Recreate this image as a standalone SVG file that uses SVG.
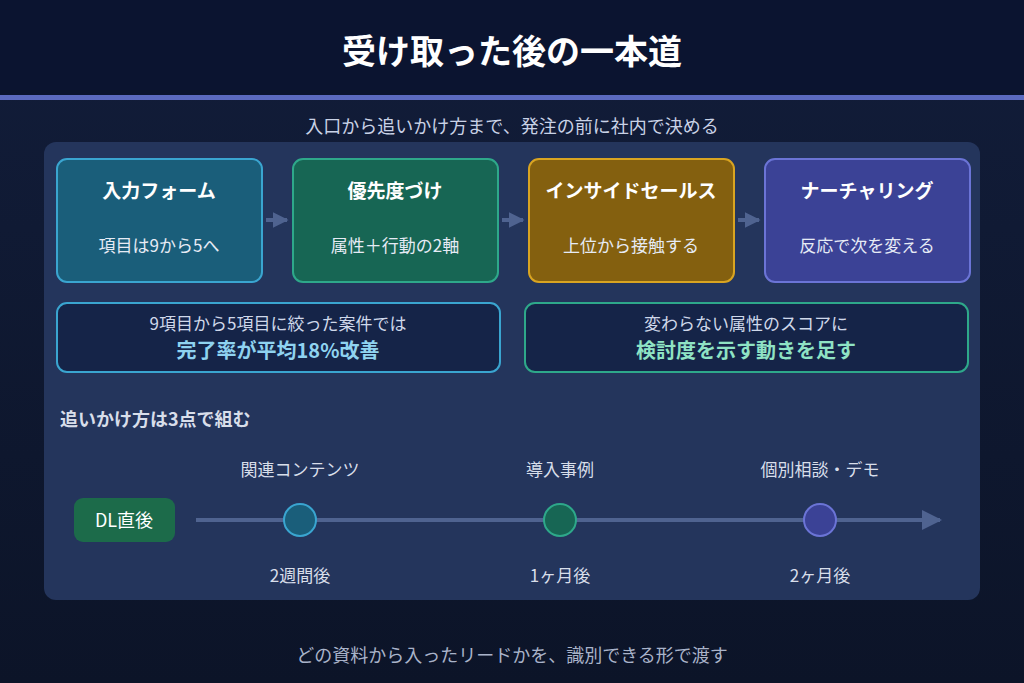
<svg xmlns="http://www.w3.org/2000/svg" width="1024" height="683" viewBox="0 0 1024 683">
<defs>
<linearGradient id="bg" x1="0" y1="0" x2="0" y2="1"><stop offset="0" stop-color="#121d3a"/><stop offset="1" stop-color="#0c1428"/></linearGradient>
<marker id="ah" viewBox="0 0 10 10" refX="9" refY="5" markerWidth="4" markerHeight="4" orient="auto"><path d="M0,0 L10,5 L0,10z" fill="#4f6390"/></marker>
<marker id="ah2" viewBox="0 0 10 10" refX="9" refY="5" markerWidth="5" markerHeight="5" orient="auto"><path d="M0,0 L10,5 L0,10z" fill="#4f6390"/></marker>
<style>
text{font-family:"Noto Sans CJK JP","Noto Sans",sans-serif;text-anchor:middle}
.t{fill:#fff;font-size:19px;font-weight:700}
.s{fill:#e6ebf5;font-size:17px}
.l{fill:#d8deea;font-size:17px}
.lb{font-size:18px;font-weight:700}
</style>
</defs>
<rect width="1024" height="683" fill="url(#bg)"/>
<rect width="1024" height="95" fill="#0b1430"/>
<rect y="95" width="1024" height="5" fill="#5b6ac0"/>
<text x="512" y="64" fill="#fff" font-size="34" font-weight="700">受け取った後の一本道</text>
<text x="512" y="133" fill="#c9d2e6" font-size="18">入口から追いかけ方まで、発注の前に社内で決める</text>
<rect x="44" y="142" width="936" height="458" rx="12" fill="#24355c"/>
<g id="connectors" stroke="#4f6390" stroke-width="4" fill="none">
<line x1="266" y1="220" x2="287" y2="220" marker-end="url(#ah)"/>
<line x1="502" y1="220" x2="523" y2="220" marker-end="url(#ah)"/>
<line x1="738" y1="220" x2="759" y2="220" marker-end="url(#ah)"/>
<line x1="196" y1="520" x2="940" y2="520" stroke-width="4" marker-end="url(#ah2)"/>
</g>
<g id="n1"><rect x="57" y="159" width="205" height="123" rx="10" fill="#1a5e7a" stroke="#3aa5d0" stroke-width="2"/><text class="t" x="159" y="198">入力フォーム</text><text class="s" x="159" y="252">項目は9から5へ</text></g>
<g id="n2"><rect x="293" y="159" width="205" height="123" rx="10" fill="#176654" stroke="#2ea88a" stroke-width="2"/><text class="t" x="395" y="198">優先度づけ</text><text class="s" x="395" y="252">属性＋行動の2軸</text></g>
<g id="n3"><rect x="529" y="159" width="205" height="123" rx="10" fill="#84600f" stroke="#d9a421" stroke-width="2"/><text class="t" x="631" y="198">インサイドセールス</text><text class="s" x="631" y="252">上位から接触する</text></g>
<g id="n4"><rect x="765" y="159" width="205" height="123" rx="10" fill="#3b4296" stroke="#6b74d6" stroke-width="2"/><text class="t" x="867" y="198">ナーチャリング</text><text class="s" x="867" y="252">反応で次を変える</text></g>
<g id="note1"><rect x="57" y="303" width="443" height="69" rx="10" fill="#152448" stroke="#3aa5d0" stroke-width="2"/><text x="278" y="330" fill="#cfd8ea" font-size="17">9項目から5項目に絞った案件では</text><text x="278" y="358" fill="#8fd3f0" font-size="20" font-weight="700">完了率が平均18%改善</text></g>
<g id="note2"><rect x="525" y="303" width="443" height="69" rx="10" fill="#152448" stroke="#2ea88a" stroke-width="2"/><text x="746" y="330" fill="#cfd8ea" font-size="17">変わらない属性のスコアに</text><text x="746" y="358" fill="#8fe3c4" font-size="20" font-weight="700">検討度を示す動きを足す</text></g>
<text x="60" y="426" fill="#d8deea" font-size="18" font-weight="700" style="text-anchor:start">追いかけ方は3点で組む</text>
<g id="start"><rect x="74" y="498" width="101" height="44" rx="9" fill="#1c6b4a"/><text x="124" y="527" fill="#fff" font-size="18">DL直後</text></g>
<g id="p1"><circle cx="300" cy="520" r="16" fill="#1a5e7a" stroke="#3aa5d0" stroke-width="2"/><text class="l" x="300" y="476">関連コンテンツ</text><text class="l" x="300" y="582">2週間後</text></g>
<g id="p2"><circle cx="560" cy="520" r="16" fill="#176654" stroke="#2ea88a" stroke-width="2"/><text class="l" x="560" y="476">導入事例</text><text class="l" x="560" y="582">1ヶ月後</text></g>
<g id="p3"><circle cx="820" cy="520" r="16" fill="#3b4296" stroke="#6b74d6" stroke-width="2"/><text class="l" x="820" y="476">個別相談・デモ</text><text class="l" x="820" y="582">2ヶ月後</text></g>
<text x="512" y="662" fill="#a9b3c9" font-size="18">どの資料から入ったリードかを、識別できる形で渡す</text>
</svg>
